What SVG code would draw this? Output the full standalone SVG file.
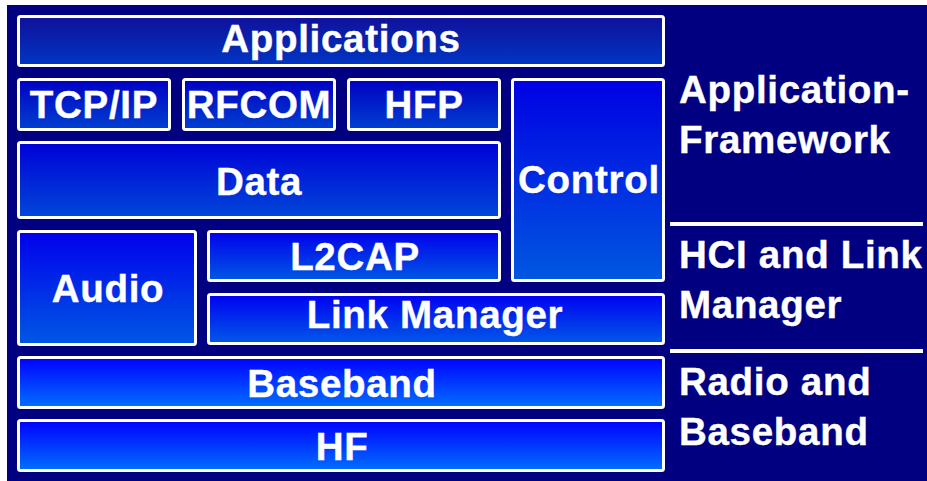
<svg xmlns="http://www.w3.org/2000/svg" width="927" height="481" viewBox="0 0 927 481">
<defs>
<linearGradient id="gA" x1="0" y1="0" x2="0" y2="1"><stop offset="0" stop-color="#10109a"/><stop offset="1" stop-color="#0036c4"/></linearGradient>
<linearGradient id="gB" x1="0" y1="0" x2="0" y2="1"><stop offset="0" stop-color="#0000c4"/><stop offset="1" stop-color="#0040d0"/></linearGradient>
<linearGradient id="gC" x1="0" y1="0" x2="0" y2="1"><stop offset="0" stop-color="#0000d8"/><stop offset="1" stop-color="#0048d8"/></linearGradient>
<linearGradient id="gD" x1="0" y1="0" x2="0" y2="1"><stop offset="0" stop-color="#0000e4"/><stop offset="1" stop-color="#0058e0"/></linearGradient>
<linearGradient id="gE" x1="0" y1="0" x2="0" y2="1"><stop offset="0" stop-color="#0000ec"/><stop offset="1" stop-color="#0058e4"/></linearGradient>
<linearGradient id="gF" x1="0" y1="0" x2="0" y2="1"><stop offset="0" stop-color="#0000f2"/><stop offset="1" stop-color="#005ae8"/></linearGradient>
<linearGradient id="gG" x1="0" y1="0" x2="0" y2="1"><stop offset="0" stop-color="#0000ff"/><stop offset="1" stop-color="#0070ff"/></linearGradient>
</defs>
<style>
.box{stroke:#ffffff;stroke-width:3}
.t{font-family:"Liberation Sans",Arial,sans-serif;font-weight:bold;font-size:38.5px;fill:#ffffff;stroke:#ffffff;stroke-width:0.4;letter-spacing:0.7px}
.c{text-anchor:middle}
.sep{stroke:#ffffff;stroke-width:4}
</style>
<rect x="0" y="0" width="927" height="481" fill="#ffffff"/>
<rect x="7" y="5" width="920" height="476" fill="#000080"/>
<g id="applications"><rect class="box" x="18.5" y="16.5" width="645" height="49" rx="2" fill="url(#gA)"/><text class="t c" x="341" y="52">Applications</text></g>
<g id="tcpip"><rect class="box" x="18.5" y="79.5" width="151" height="50" rx="2" fill="url(#gB)"/><text class="t c" x="94" y="118">TCP/IP</text></g>
<g id="rfcom"><rect class="box" x="183.5" y="79.5" width="151" height="50" rx="2" fill="url(#gB)"/><text class="t c" x="259" y="118">RFCOM</text></g>
<g id="hfp"><rect class="box" x="348.5" y="79.5" width="151" height="50" rx="2" fill="url(#gB)"/><text class="t c" x="424" y="118">HFP</text></g>
<g id="control"><rect class="box" x="512.5" y="79.5" width="151" height="201" rx="2" fill="url(#gD)"/><text class="t c" x="589" y="193">Control</text></g>
<g id="data"><rect class="box" x="18.5" y="142.5" width="481" height="75" rx="2" fill="url(#gC)"/><text class="t c" x="259" y="195">Data</text></g>
<g id="audio"><rect class="box" x="18.5" y="231.5" width="177" height="113" rx="2" fill="url(#gE)"/><text class="t c" x="108" y="302">Audio</text></g>
<g id="l2cap"><rect class="box" x="208.5" y="231.5" width="291" height="49" rx="2" fill="url(#gE)"/><text class="t c" x="355" y="270">L2CAP</text></g>
<g id="linkmanager"><rect class="box" x="208.5" y="294.5" width="455" height="49" rx="2" fill="url(#gF)"/><text class="t c" x="435" y="328">Link Manager</text></g>
<g id="baseband"><rect class="box" x="18.5" y="357.5" width="645" height="50" rx="2" fill="url(#gG)"/><text class="t c" x="342" y="397">Baseband</text></g>
<g id="hf"><rect class="box" x="18.5" y="420.5" width="645" height="50" rx="2" fill="url(#gG)"/><text class="t c" x="342" y="460">HF</text></g>
<g id="connectors">
<line class="sep" x1="670" y1="224" x2="923" y2="224"/>
<line class="sep" x1="670" y1="351" x2="923" y2="351"/>
</g>
<g id="labels">
<text class="t" x="679" y="103">Application-</text>
<text class="t" x="679" y="153">Framework</text>
<text class="t" x="679" y="268">HCI and Link</text>
<text class="t" x="679" y="318">Manager</text>
<text class="t" x="679" y="395">Radio and</text>
<text class="t" x="679" y="445">Baseband</text>
</g>
</svg>
